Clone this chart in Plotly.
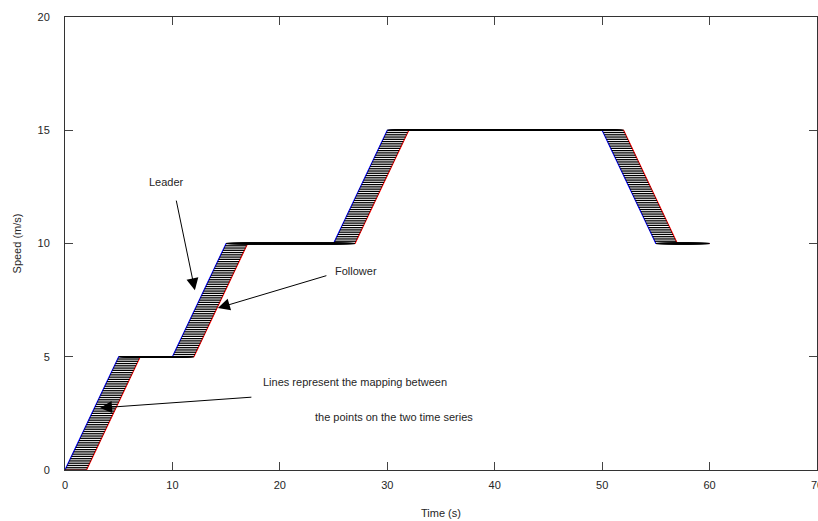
import numpy as np
import plotly.graph_objects as go

# Leader speed profile (breakpoints)
leader_t = [0, 5, 10, 15, 25, 30, 50, 55, 60]
leader_v = [0, 5, 5, 10, 10, 15, 15, 10, 10]
# Follower speed profile (breakpoints) - leader delayed by 2 s
follower_t = [0, 2, 7, 12, 17, 27, 32, 52, 57, 60]
follower_v = [0, 0, 5, 5, 10, 10, 15, 15, 10, 10]
lag = 2.0
dt = 0.1

x_ticks = [0, 10, 20, 30, 40, 50, 60, 70]
y_ticks = [0, 5, 10, 15, 20]

# mapping between points of the two time series
ts = np.round(np.arange(0, 60 - lag + 1e-9, dt), 6)
lv = np.interp(ts, leader_t, leader_v)
mx, my = [], []
for t, v in zip(ts, lv):
    mx += [t, t + lag, None]
    my += [v, v, None]

fig = go.Figure()
fig.add_trace(go.Scatter(x=leader_t, y=leader_v, mode="lines",
                         line=dict(color="#0000ff", width=1.2), name="Leader"))
fig.add_trace(go.Scatter(x=follower_t, y=follower_v, mode="lines",
                         line=dict(color="#ff0000", width=1.2), name="Follower"))
fig.add_trace(go.Scatter(x=mx, y=my, mode="lines",
                         line=dict(color="black", width=1.3), name="Mapping"))

font = dict(family="Liberation Sans, Arial, sans-serif", size=11, color="#262626")

axis_common = dict(showline=True, linecolor="#333", linewidth=1, mirror="ticks",
                   ticks="inside", ticklen=8, tickcolor="#444", tickwidth=1,
                   showgrid=False, zeroline=False, tickfont=font,
                   ticklabeloverflow="allow", automargin=False)

fig.update_xaxes(range=[0, 70], tickvals=x_ticks, ticklabelstandoff=5, **axis_common,
                 title=dict(text="Time (s)", font=font, standoff=19))
fig.update_yaxes(range=[0, 20], tickvals=y_ticks, ticklabelstandoff=12, **axis_common,
                 title=dict(text="Speed (m/s)", font=font, standoff=13))

arrow = dict(showarrow=True, arrowhead=2, arrowsize=2.4, arrowwidth=1,
             arrowcolor="black", axref="x", ayref="y", xref="x", yref="y", text="")
fig.add_annotation(x=12.09, y=7.94, ax=10.33, ay=11.96, **arrow)
fig.add_annotation(x=14.23, y=7.15, ax=24.47, ay=8.6, **arrow)
fig.add_annotation(x=3.26, y=2.74, ax=17.49, ay=3.22, **arrow)

txt = dict(showarrow=False, xref="x", yref="y", font=font)
fig.add_annotation(x=9.49, y=12.71, text="Leader", **txt)
fig.add_annotation(x=27.07, y=8.78, text="Follower", **txt)
fig.add_annotation(x=26.98, y=3.88, text="Lines represent the mapping between", **txt)
fig.add_annotation(x=30.6, y=2.34, text="the points on the two time series", **txt)

fig.update_layout(width=818, height=521, showlegend=False,
                  margin=dict(l=65, r=1, t=17, b=51),
                  paper_bgcolor="white", plot_bgcolor="white", font=font)

fig.write_html("out.html")
